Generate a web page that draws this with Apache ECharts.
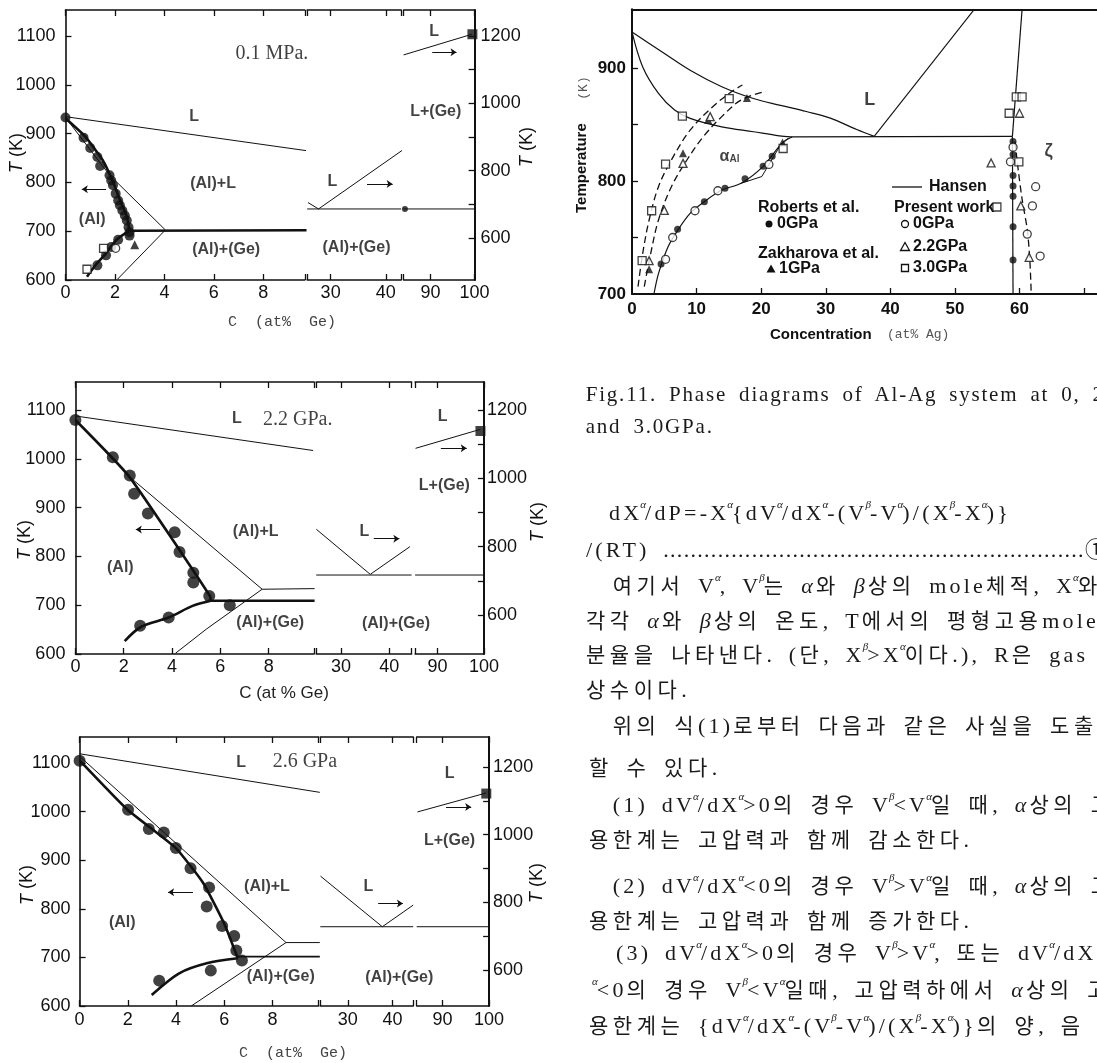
<!DOCTYPE html>
<html><head><meta charset="utf-8">
<script src="https://cdn.jsdelivr.net/npm/echarts@6/dist/echarts.min.js"></script>
<style>
html,body{margin:0;padding:0;background:#fff;width:1097px;height:1063px;overflow:hidden;}
#chart{position:absolute;left:0;top:0;width:1097px;height:1063px;}
.ln{position:absolute;white-space:nowrap;font-family:"Liberation Serif","Noto Sans CJK KR",serif;font-size:22px;line-height:22px;color:#1a1a1a;letter-spacing:3.2px;word-spacing:5px;}
.ln.cap{font-size:21px;letter-spacing:1.8px;word-spacing:5px;}
.k{font-size:21px;letter-spacing:4.5px;}
.su{position:relative;top:-12px;font-size:11px;margin-left:-2px;margin-right:-1px;letter-spacing:0;font-style:italic;}
.dots{letter-spacing:1.3px;}
</style></head><body>
<div id="chart"></div>
<div id="txt"></div>
<script>
// ================= DATA =================
// ---- Panel 1 : Al-Ge, 0.1 MPa ----  left segment  [at% Ge, T(K) left scale]
const p1_liquidus = [[0,934.7],[9.75,865]];
const p1_solidus  = [[0,931.3],[0.8,893.7],[1.5,845.9],[1.92,801.5],[2.2,764],[2.48,729.8],[2.59,701]];
const p1_solvus   = [[2.59,701],[2.06,682],[1.64,654.6],[1.22,630.7],[0.87,606.8]];
const p1_eutectic = [[2.59,701],[9.75,702]];
const p1_liqAl    = [[0,933],[1.78,815.2],[4.04,702.5]];
const p1_geLine   = [[4.04,702.5],[2.1,601.4]];
const p1_circles  = [[0,933],[0.73,891.7],[1.0,870.6],[1.29,852],[1.4,833.6],[1.78,814.5],[1.85,804],[1.92,794],[2.03,777],[2.13,763],[2.2,753],[2.3,742.5],[2.4,732],[2.48,722],[2.55,708],[2.59,698],[2.59,691],[2.13,682.5],[1.85,667.6],[1.64,650.5],[1.29,630]];
const p1_squares  = [[1.54,665],[0.87,622]];
const p1_openCirc = [[2.03,665]];
const p1_triangles= [[2.8,672]];
const p1_labels   = [['L',5.2,935],['(Al)+L',5.97,798],['(Al)',1.08,723],['(Al)+(Ge)',6.5,662]];
const p1_title    = [['0.1 MPa.',8.35,1064]];
const p1_arrow    = [[1.64,786],[0.66,786]];
// middle segment (T on right scale)
const p1m_lines   = [[[25.9,705],[27.8,686],[43.1,861.4]],[[25.75,686],[42.8,686]]];
const p1m_labels  = [['L',30.3,768],['(Al)+(Ge)',34.7,570]];
const p1m_arrow   = [[36.6,760],[41.25,760]];
// right segment (T on right scale)
const p1r_lines   = [[[83.9,1143.6],[99.4,1205]],[[83.9,686],[100,686]]];
const p1r_squares = [[99.5,1205]];
const p1r_dots    = [[84.2,686]];
const p1r_labels  = [['L',90.8,1213],['L+(Ge)',91.2,976]];
const p1r_arrow   = [[90.4,1151.6],[95.9,1151.6]];

// ---- Panel 2 : Al-Ge, 2.2 GPa ----
const p2_liquidus = [[0,1087.8],[9.84,1017]];
const p2_solidus  = [[0,1079.6],[2.22,964],[5.57,719],[5.6,709]];
const p2_solvus   = [[5.6,709],[4.85,698.6],[3.86,674.8],[2.72,655.8],[2.04,626.5]];
const p2_eutectic = [[5.5,709],[9.9,709]];
const p2_liqAl    = [[0,1080],[2.22,964],[7.73,732.7],[9.9,734]];
const p2_geLine   = [[7.73,732.7],[5.42,651],[4.14,601.4]];
const p2_circles  = [[0,1079.6],[1.55,1003.4],[2.25,966],[2.43,928.6],[3.0,887.8],[4.11,849.7],[4.31,808.8],[4.88,766.7],[4.88,746.3],[5.54,719],[6.39,700],[3.86,674.8],[2.68,657.8]];
const p2_labels   = [['L',6.68,1083],['(Al)+L',7.46,851.7],['(Al)',1.86,776.9],['(Al)+(Ge)',8.06,664.6]];
const p2_title    = [['2.2 GPa.',9.2,1081]];
const p2_arrow    = [[3.5,855],[2.5,855]];
const p2m_lines   = [[[24.9,850.7],[36.07,719],[44.29,800]],[[24.86,717],[44.64,717]]];
const p2m_labels  = [['L',34.86,844],['(Al)+(Ge)',41.4,575.6]];
const p2m_arrow   = [[36.8,823.4],[42.1,823.4]];
const p2r_lines   = [[[85.3,1087.8],[99.26,1143.4]],[[85.2,717],[100,717]]];
const p2r_squares = [[99.26,1138.5]];
const p2r_labels  = [['L',91.1,1180.5],['L+(Ge)',91.5,977.6]];
const p2r_arrow   = [[90.74,1087.8],[96.3,1087.8]];

// ---- Panel 3 : Al-Ge, 2.6 GPa ----
const p3_liquidus = [[0,1119],[9.96,1039.6]];
const p3_solidus  = [[0,1105.5],[1.99,1003.8],[3.99,924.9],[5.13,852.7],[5.99,770.3],[6.56,698.2]];
const p3_solvus   = [[6.56,698.2],[5.27,687.9],[4.13,667.3],[2.99,622.7]];
const p3_eutectic = [[6.56,701.6],[9.96,701.6]];
const p3_liqAl    = [[0,1113.7],[8.56,730.5],[9.96,730.5]];
const p3_geLine   = [[8.56,730.5],[4.63,600]];
const p3_circles  = [[0,1104.8],[2.01,1003.8],[2.87,964],[3.49,957],[3.99,924.9],[4.6,883.6],[5.37,843.8],[5.27,804.7],[5.91,764.8],[6.41,744.2],[6.5,714],[6.73,693.4],[5.44,672.8],[3.3,652.2]];
const p3_labels   = [['L',6.7,1101.4],['(Al)+L',7.77,845.9],['(Al)',1.77,771.7],['(Al)+(Ge)',8.34,660.4]];
const p3_title    = [['2.6 GPa',9.34,1103.4]];
const p3_arrow    = [[4.7,834.2],[3.67,834.2]];
const p3m_lines   = [[[23.9,877.4],[37.7,727.9],[44.6,791.8]],[[23.85,727.9],[44.6,727.9]]];
const p3m_labels  = [['L',34.6,845.9],['(Al)+(Ge)',41.5,578.4]];
const p3m_arrow   = [[36.77,796.7],[42.3,796.7]];
const p3r_lines   = [[[84.6,1067.2],[99.4,1123.3]],[[84.44,727.9],[100,727.9]]];
const p3r_squares = [[99.4,1121.5]];
const p3r_labels  = [['L',91.5,1180.3],['L+(Ge)',91.5,981.6]];
const p3r_arrow   = [[90.74,1082],[96.15,1082]];

// shared tick values for the Al-Ge panels
const geTicksL = [0,2,4,6,8];
const geTicksM = [30,40];
const geTicksR = [90,100];
const tLeftTicks  = [600,700,800,900,1000,1100];
const tRightTicks = [600,700,800,900,1000,1100,1200];
const tRightLabels= [600,800,1000,1200];

// ---- Al-Ag diagram (Fig.11) [at% Ag, T(K)] ----
const ag_liqUpper  = [[0,932],[4.2,916],[9.0,898],[13.9,883.5],[18.8,873],[23,867],[27,861.5],[30.6,855.9],[34.8,845.6],[37.5,839.5]];
const ag_liqRight  = [[37.5,839.5],[53.0,952]];
const ag_solidus   = [[0,932],[1.66,901],[4.1,877.6],[6.6,862.8],[9.0,855.5],[13.9,848],[18.8,843.6],[22.8,840],[24.6,839]];
const ag_eutectic  = [[24.6,839],[58.9,839.5]];
const ag_zetaUp    = [[58.9,839.5],[60.4,952]];
const ag_zetaLow   = [[58.9,839.5],[59.0,700]];
const ag_solvus    = [[3.4,700],[4.1,718],[5.6,742],[7.1,756.6],[9.0,771.4],[11.5,783],[13.9,792],[16.9,798],[20.3,813],[23.3,834],[24.8,839]];
const ag_hansenBend= [[16.9,798],[20.1,804],[22.8,830],[24.2,838]];
const ag_dash30    = [[0.93,706.5],[1.66,736],[2.65,765.5],[4.1,795],[6.1,818.6],[9.0,845],[12.5,865.8],[15.4,879],[17.1,885]];
const ag_dash22    = [[1.9,706.5],[2.9,736],[4.1,765.5],[6.1,795],[8.5,818.6],[11.0,839],[13.9,857],[16.9,871.7],[20.7,879.4]];
const ag_dashRight = [[61.8,703],[61.6,730],[61.2,757],[60.4,784],[59.8,810],[59.3,835]];
const ag_roberts0  = [[4.5,726.5],[7.06,757.3],[11.2,781.7],[14.4,793.5],[17.5,802],[20.3,813],[21.7,822],[59,835],[59,823.5],[59,805],[59,795.5],[59,786.6],[59,759.5],[59,730]];
const ag_zakh1     = [[2.65,722],[7.9,824.5],[11.8,854],[17.8,873.5],[23.3,834]];
const ag_present0  = [[5.2,730.7],[6.3,750],[9.75,773.7],[13.3,791.4],[21.2,814.7],[59,830],[58.6,817],[62.5,795],[62.0,778],[61.2,753],[63.2,733.6]];
const ag_present22 = [[2.65,729.5],[5.0,774],[7.9,815.6],[12.1,857],[55.6,816],[60.2,778],[61.5,732.5],[60.0,860]];
const ag_present30 = [[1.57,729.5],[3.04,773.7],[5.2,815],[7.8,857.5],[15.05,873],[23.4,828.8],[56.5,777],[58.4,860],[59.5,874.4],[60.4,874.4],[59.9,817]];
const ag_labels    = [['L',36.8,872],['ζ',64.5,826.5]];
const ag_alphaAl   = [['{a|α}{s|Al}',15.1,819]];
const agTicksX = [0,10,20,30,40,50,60];
const agTicksY = [700,800,900];

// ---- text column ----
const captionLines = [
  [585.7,401,'Fig.11. Phase diagrams of Al-Ag system at 0, 2.2'],
  [585.7,433,'and 3.0GPa.']
];
const bodyLines = [
  [609,520,'dX^a/dP=-X^a{dV^a/dX^a-(V^b-V^a)/(X^b-X^a)}'],
  [586,557,'/(RT) #..............................................................#①'],
  [612.8,593,'여기서 V^a, V^b는 α와 β상의 mole체적, X^a와  X^b는'],
  [586,628,'각각 α와 β상의 온도, T에서의 평형고용mole'],
  [586,662,'분율을 나타낸다. (단, X^b>X^a이다.), R은 gas'],
  [586,697,'상수이다.'],
  [612.8,733,'위의 식(1)로부터 다음과 같은 사실을 도출'],
  [589,775,'할 수 있다.'],
  [612.8,812,'(1) dV^a/dX^a>0의 경우 V^b<V^a일 때, α상의 고'],
  [589,847,'용한계는 고압력과 함께 감소한다.'],
  [612.8,893,'(2) dV^a/dX^a<0의 경우 V^b>V^a일 때, α상의 고'],
  [589,928,'용한계는 고압력과 함께 증가한다.'],
  [616,960,'(3) dV^a/dX^a>0의 경우 V^b>V^a, 또는 dV^a/dX'],
  [594,997,'^a<0의 경우 V^b<V^a일때, 고압력하에서 α상의 고'],
  [589,1033,'용한계는 {dV^a/dX^a-(V^b-V^a)/(X^b-X^a)}의 양, 음 부']
];

// ================= BUILD =================
const INK = '#111';
const opt = {animation:false, backgroundColor:'#fff', grid:[], xAxis:[], yAxis:[], series:[], graphic:[]};
const plain = function(v){ return String(v); };

function addGrid(l, r, t, b){ opt.grid.push({left:l, top:t, width:r-l, height:b-t, containLabel:false, show:false}); return opt.grid.length-1; }
function axisBase(g, min, max, ticks, lw){
  return {type:'value', gridIndex:g, min:min, max:max, splitLine:{show:false},
    axisLine:{show:true, onZero:false, lineStyle:{color:INK, width:lw||1.6}},
    axisTick:{show:ticks.length>0, inside:true, length:6, customValues:ticks, lineStyle:{color:INK, width:1.3}}};
}
function addX(g, min, max, ticks, labels, lab, topTicks, lw){
  opt.xAxis.push(Object.assign(axisBase(g,min,max,ticks,lw), {position:'bottom',
    axisLabel: labels ? Object.assign({show:true, customValues:labels, color:INK, formatter:plain}, lab) : {show:false}}));
  const i = opt.xAxis.length-1;
  opt.xAxis.push(Object.assign(axisBase(g,min,max,topTicks||ticks,lw), {position:'top', axisLabel:{show:false}}));
  return i;
}
function addY(g, min, max, pos, ticks, labels, lab, lw){
  if (pos === 'hidden') { opt.yAxis.push({type:'value', gridIndex:g, min:min, max:max, show:false}); return opt.yAxis.length-1; }
  opt.yAxis.push(Object.assign(axisBase(g,min,max,ticks,lw), {position:pos,
    axisLabel: Object.assign({show:true, customValues:labels, color:INK, formatter:plain}, lab)}));
  return opt.yAxis.length-1;
}
function line(ax, data, w, extra){
  opt.series.push(Object.assign({type:'line', xAxisIndex:ax[0], yAxisIndex:ax[1], data:data, symbol:'none', silent:true,
    lineStyle:{color:INK, width:w}, z:3}, extra||{}));
}
function pts(ax, data, symbol, size, filled){
  opt.series.push({type:'scatter', xAxisIndex:ax[0], yAxisIndex:ax[1], data:data, symbol:symbol, symbolSize:size, silent:true,
    itemStyle: filled ? {color:INK} : {color:'#fff', borderColor:INK, borderWidth:1.3}, z:5});
}
function texts(ax, items, style, rich){
  opt.series.push({type:'scatter', xAxisIndex:ax[0], yAxisIndex:ax[1], symbolSize:0, silent:true,
    data: items.map(function(t){ return {name:t[0], value:[t[1],t[2]]}; }),
    label:Object.assign({show:true, position:'inside', formatter:'{b}', color:INK}, style, rich?{rich:rich}:{}), z:6});
}
function arrow(ax, seg){
  opt.series.push({type:'lines', coordinateSystem:'cartesian2d', xAxisIndex:ax[0], yAxisIndex:ax[1],
    symbol:['none','arrow'], symbolSize:[0,6], silent:true, lineStyle:{color:INK, width:1.1, opacity:1, curveness:0},
    data:[{coords:seg}], z:4});
}

const regionFont = {fontFamily:'Liberation Sans', fontWeight:'bold', fontSize:16};
const titleFont  = {fontFamily:'Liberation Serif', fontSize:20};
const tickFont   = {fontFamily:'Liberation Sans', fontSize:18};

function buildPanel(G, D){
  const gL = addGrid(G.L[0], G.L[1], G.top, G.bottom);
  const gM = addGrid(G.M[0], G.M[1], G.top, G.bottom);
  const gR = addGrid(G.R[0], G.R[1], G.top, G.bottom);
  const xl = addX(gL, 0, G.xL, geTicksL.concat([G.xL]), geTicksL, Object.assign({margin:G.xm}, tickFont));
  const xm = addX(gM, G.xM[0], G.xM[1], [G.xM[0]].concat(geTicksM,[G.xM[1]]), geTicksM, Object.assign({margin:G.xm}, tickFont));
  const xr = addX(gR, G.xR, 100, [G.xR].concat(geTicksR), geTicksR, Object.assign({margin:G.xm}, tickFont));
  const yl = addY(gL, 600, G.yL, 'left', tLeftTicks, tLeftTicks, Object.assign({margin:G.ylm}, tickFont));
  const ym = addY(gM, G.yR[0], G.yR[1], 'hidden');
  const yr = addY(gR, G.yR[0], G.yR[1], 'right', tRightTicks, tRightLabels, Object.assign({margin:G.yrm}, tickFont), 2);
  const L = [xl, yl], M = [xm, ym], R = [xr, yr];
  line(L, D.liquidus, 1);
  line(L, D.liqAl, 1);
  line(L, D.geLine, 1);
  line(L, D.solidus, 2.6, {smooth:0.15});
  line(L, D.solvus, 2.6, {smooth:0.3});
  line(L, D.eutectic, D.eutW || 2.4);
  pts(L, D.circles, 'circle', G.ms, true);
  if (D.squares) pts(L, D.squares, 'rect', 8, false);
  if (D.openCirc) pts(L, D.openCirc, 'circle', 8, false);
  if (D.triangles) pts(L, D.triangles, 'triangle', 9, true);
  texts(L, D.labels, regionFont);
  texts(L, D.title, titleFont);
  arrow(L, D.arrow);
  D.mLines.forEach(function(l){ line(M, l, 1); });
  texts(M, D.mLabels, regionFont);
  arrow(M, D.mArrow);
  D.rLines.forEach(function(l){ line(R, l, 1); });
  pts(R, D.rSquares, 'rect', 10, true);
  if (D.rDots) pts(R, D.rDots, 'circle', 6, true);
  texts(R, D.rLabels, regionFont);
  arrow(R, D.rArrow);
}

buildPanel({top:10, bottom:280, L:[65.5,304.8], M:[307.2,401.2], R:[403.6,474.6], xL:9.68, xM:[25.75,42.8], xR:83.9,
            yL:1153.3, yR:[475,1277], xm:4, ylm:10, yrm:6, ms:10},
  {liquidus:p1_liquidus, solidus:p1_solidus, solvus:p1_solvus, eutectic:p1_eutectic, liqAl:p1_liqAl, geLine:p1_geLine,
   circles:p1_circles, squares:p1_squares, openCirc:p1_openCirc, triangles:p1_triangles, labels:p1_labels, title:p1_title, arrow:p1_arrow,
   mLines:p1m_lines, mLabels:p1m_labels, mArrow:p1m_arrow, rLines:p1r_lines, rSquares:p1r_squares, rDots:p1r_dots, rLabels:p1r_labels, rArrow:p1r_arrow});
buildPanel({top:382, bottom:654, L:[75.4,314.1], M:[316.2,411.6], R:[415.1,483.9], xL:9.88, xM:[24.86,44.64], xR:85.2,
            yL:1157.4, yR:[485.9,1281.9], xm:4, ylm:10, yrm:3, ms:12},
  {liquidus:p2_liquidus, solidus:p2_solidus, solvus:p2_solvus, eutectic:p2_eutectic, liqAl:p2_liqAl, geLine:p2_geLine,
   circles:p2_circles, labels:p2_labels, title:p2_title, arrow:p2_arrow,
   mLines:p2m_lines, mLabels:p2m_labels, mArrow:p2m_arrow, rLines:p2r_lines, rSquares:p2r_squares, rLabels:p2r_labels, rArrow:p2r_arrow});
buildPanel({top:737, bottom:1006, L:[79.6,318.6], M:[320.3,413.2], R:[416.7,489.1], xL:9.91, xM:[23.85,44.6], xR:84.44,
            yL:1153.5, yR:[493.6,1288.7], xm:5, ylm:9, yrm:4, ms:12},
  {liquidus:p3_liquidus, solidus:p3_solidus, solvus:p3_solvus, eutectic:p3_eutectic, eutW:1.6, liqAl:p3_liqAl, geLine:p3_geLine,
   circles:p3_circles, labels:p3_labels, title:p3_title, arrow:p3_arrow,
   mLines:p3m_lines, mLabels:p3m_labels, mArrow:p3m_arrow, rLines:p3r_lines, rSquares:p3r_squares, rLabels:p3r_labels, rArrow:p3r_arrow});

// ---- Al-Ag chart ----
(function(){
  const g = addGrid(632, 632+72*6.8, 9.3, 294);
  const agFont = {fontFamily:'Liberation Sans', fontWeight:'bold', fontSize:17};
  const xi = addX(g, 0, 72, [10,20,30,40,50,60,70], agTicksX, Object.assign({margin:7}, agFont), [], 2);
  const yi = addY(g, 700, 952, 'left', [750,800,850,900], agTicksY, Object.assign({margin:6}, agFont), 2);
  const A = [xi, yi];
  line(A, ag_liqUpper, 1.2, {smooth:0.35});
  line(A, ag_liqRight, 1.1);
  line(A, ag_solidus, 1.2, {smooth:0.35});
  line(A, ag_eutectic, 1.3);
  line(A, ag_zetaUp, 1.2);
  line(A, ag_zetaLow, 1.2);
  line(A, ag_solvus, 1.2, {smooth:0.3});
  line(A, ag_hansenBend, 1.0);
  const dash = {type:[7,4], color:INK, width:1.3};
  line(A, ag_dash30, 1.3, {smooth:0.35, lineStyle:dash});
  line(A, ag_dash22, 1.3, {smooth:0.35, lineStyle:dash});
  line(A, ag_dashRight, 1.3, {smooth:0.3, lineStyle:dash});
  pts(A, ag_roberts0, 'circle', 7, true);
  pts(A, ag_zakh1, 'triangle', 8, true);
  pts(A, ag_present0, 'circle', 8, false);
  pts(A, ag_present22, 'triangle', 8, false);
  pts(A, ag_present30, 'rect', 8, false);
  texts(A, ag_labels, {fontFamily:'Liberation Sans', fontWeight:'bold', fontSize:18});
  texts(A, ag_alphaAl, {fontFamily:'Liberation Sans', fontWeight:'bold', fontSize:16},
        {a:{fontFamily:'Liberation Sans', fontWeight:'bold', fontSize:16, color:INK, padding:[0,0,6,0]},
         s:{fontFamily:'Liberation Sans', fontWeight:'bold', fontSize:10, color:INK}});
})();

// ---- axis titles & legend (graphic) ----
const gr = opt.graphic;
function gtext(x, y, text, style, rot, rich){
  gr.push({type:'text', x:x, y:y, rotation:rot||0, silent:true,
    style:Object.assign({text:text, fill:INK, align:'center', verticalAlign:'middle'}, style, rich?{rich:rich}:{})});
}
const tkStyle = {fontFamily:'Liberation Sans', fontSize:18};
const tkRich = {i:{fontStyle:'italic', fontFamily:'Liberation Sans', fontSize:18, fill:INK}};
[[17,153],[527,147],[25,540],[538,522],[27.5,885],[537,883]].forEach(function(p){
  gtext(p[0], p[1], '{i|T} (K)', tkStyle, Math.PI/2, tkRich);
});
gtext(282, 322, 'C  (at%  Ge)', {fontFamily:'Liberation Mono', fontSize:15, fill:'#444'});
gtext(284, 693, 'C (at % Ge)', {fontFamily:'Liberation Sans', fontSize:17, fill:'#222'});
gtext(293, 1053, 'C  (at%  Ge)', {fontFamily:'Liberation Mono', fontSize:15, fill:'#444'});
gtext(770, 335, 'Concentration', {fontFamily:'Liberation Sans', fontWeight:'bold', fontSize:15, align:'left'});
gtext(887, 335, '(at% Ag)', {fontFamily:'Liberation Mono', fontSize:13, fill:'#555', align:'left'});
gtext(582, 213, 'Temperature', {fontFamily:'Liberation Sans', fontWeight:'bold', fontSize:15, align:'left'}, Math.PI/2);
gtext(584, 88, '(K)', {fontFamily:'Liberation Mono', fontSize:13, fill:'#555'}, Math.PI/2);
const lgFont = {fontFamily:'Liberation Sans', fontWeight:'bold', fontSize:16, align:'left'};
gr.push({type:'line', silent:true, shape:{x1:892,y1:187,x2:922,y2:187}, style:{stroke:INK, lineWidth:1.3}});
gtext(929, 187, 'Hansen', lgFont);
gtext(758, 208, 'Roberts et al.', lgFont);
gtext(777, 224, '0GPa', lgFont);
gr.push({type:'circle', silent:true, shape:{cx:769, cy:224, r:3.5}, style:{fill:INK}});
gtext(758, 254, 'Zakharova et al.', lgFont);
gtext(779, 269, '1GPa', lgFont);
gr.push({type:'polygon', silent:true, shape:{points:[[771,264.5],[775.5,272.5],[766.5,272.5]]}, style:{fill:INK}});
gtext(894, 208, 'Present work', lgFont);
gtext(913, 224, '0GPa', lgFont);
gr.push({type:'circle', silent:true, shape:{cx:905, cy:224, r:3.5}, style:{fill:'#fff', stroke:INK, lineWidth:1.3}});
gtext(913, 246.7, '2.2GPa', lgFont);
gr.push({type:'polygon', silent:true, shape:{points:[[905,242.5],[909.5,250.5],[900.5,250.5]]}, style:{fill:'#fff', stroke:INK, lineWidth:1.3}});
gtext(913, 268, '3.0GPa', lgFont);
gr.push({type:'rect', silent:true, shape:{x:901.5, y:264.5, width:7, height:7}, style:{fill:'#fff', stroke:INK, lineWidth:1.3}});

const chart = echarts.init(document.getElementById('chart'), null, {renderer:'canvas'});
chart.setOption(opt);

// ---- text column (HTML) ----
function fmt(s){
  s = s.replace(/&/g,'&amp;').replace(/</g,'&lt;').replace(/>/g,'&gt;');
  s = s.replace(/α/g,'<i>α</i>').replace(/β/g,'<i>β</i>');
  s = s.replace(/\^a/g,'<span class="su">α</span>').replace(/\^b/g,'<span class="su">β</span>');
  s = s.replace(/#([^#]*)#/, '<span class="dots">$1</span>');
  s = s.replace(/([\uAC00-\uD7A3]+)/g, '<span class="k">$1</span>');
  return s;
}
const box = document.getElementById('txt');
captionLines.forEach(function(l){ addLine(l, 'ln cap', 17.6); });
bodyLines.forEach(function(l){ addLine(l, 'ln', 18.4); });
function addLine(l, cls, asc){
  const d = document.createElement('div');
  d.className = cls;
  d.style.left = l[0] + 'px';
  d.style.top = (l[1] - asc) + 'px';
  d.innerHTML = fmt(l[2]);
  box.appendChild(d);
}
</script></body></html>
